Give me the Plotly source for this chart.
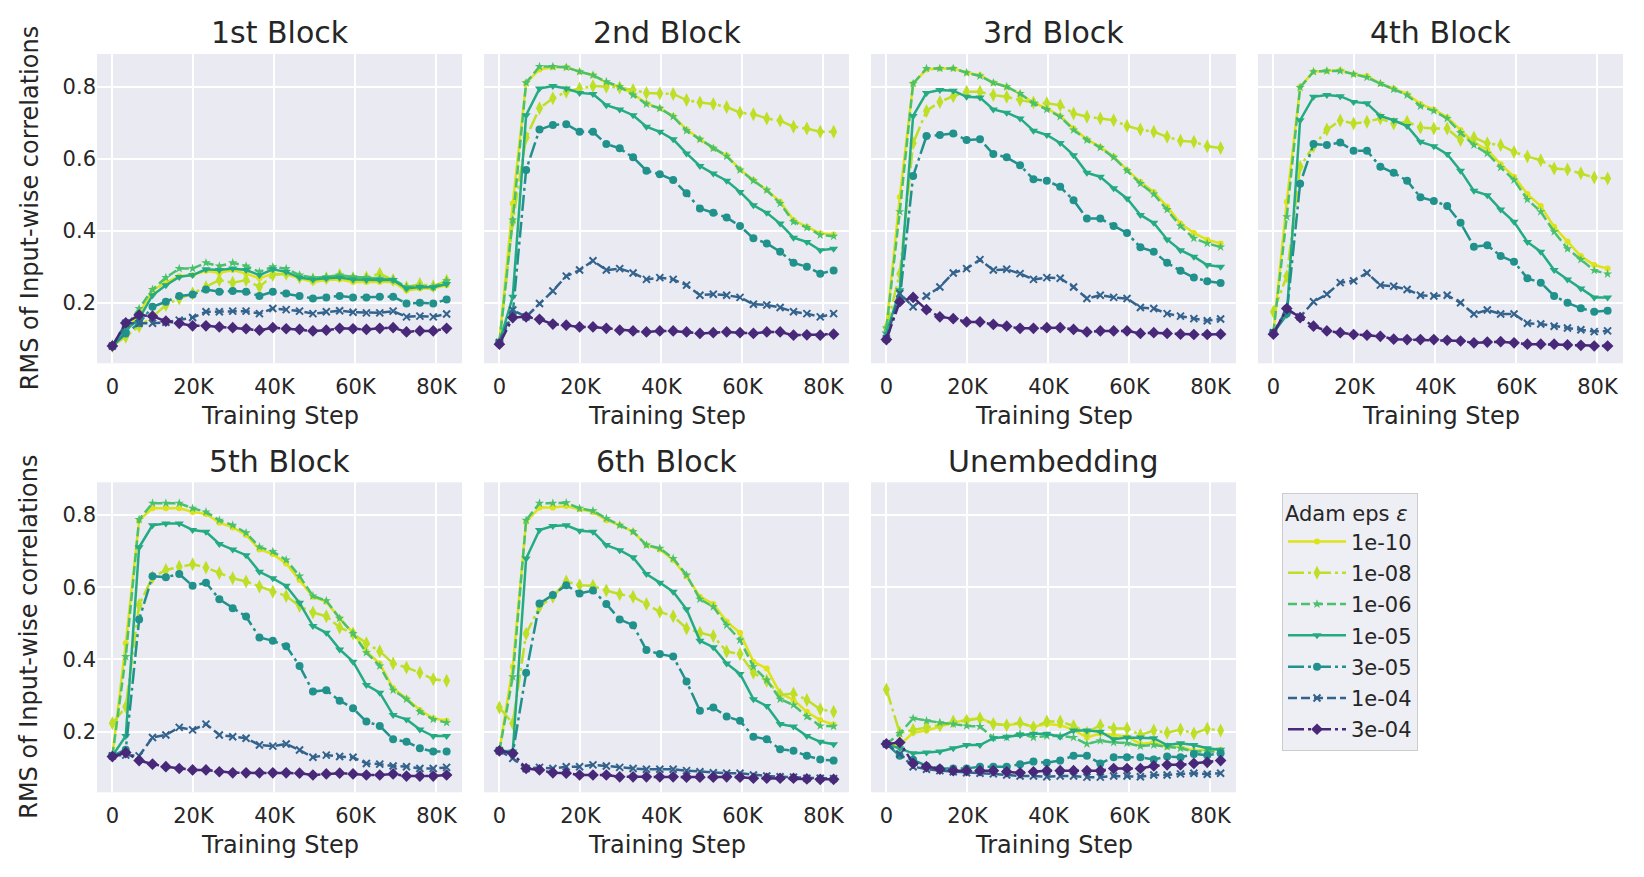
import plotly.graph_objects as go

# ---------------- data ----------------
STEPS = [0, 3300, 6600, 9900, 13200, 16500, 19800, 23100, 26400, 29700, 33000, 36300, 39600,
         42900, 46200, 49500, 52800, 56100, 59400, 62700, 66000, 69300, 72600, 75900, 79200, 82500]

EPS_LABELS = ["1e-10", "1e-08", "1e-06", "1e-05", "3e-05", "1e-04", "3e-04"]
PANEL_TITLES = ["1st Block", "2nd Block", "3rd Block", "4th Block", "5th Block", "6th Block", "Unembedding"]

XTICK_VALS = [0, 20000, 40000, 60000, 80000]
XTICK_TEXT = ["0", "20K", "40K", "60K", "80K"]
YTICK_VALS = [0.2, 0.4, 0.6, 0.8]
YTICK_TEXT = ["0.2", "0.4", "0.6", "0.8"]

BLOCK1 = {
    "1e-10": [0.08, 0.119, 0.170, 0.235, 0.256, 0.274, 0.277, 0.289, 0.283, 0.291, 0.281, 0.268, 0.281, 0.279, 0.268, 0.258, 0.263, 0.265, 0.258, 0.258, 0.258, 0.258, 0.234, 0.240, 0.240, 0.249],
    "1e-08": [0.08, 0.106, 0.135, 0.161, 0.194, 0.212, 0.226, 0.244, 0.263, 0.256, 0.263, 0.244, 0.277, 0.281, 0.270, 0.265, 0.268, 0.277, 0.268, 0.270, 0.281, 0.263, 0.243, 0.252, 0.246, 0.261],
    "1e-06": [0.08, 0.133, 0.184, 0.237, 0.270, 0.295, 0.295, 0.311, 0.302, 0.311, 0.302, 0.286, 0.300, 0.295, 0.277, 0.270, 0.272, 0.277, 0.272, 0.270, 0.268, 0.265, 0.244, 0.246, 0.244, 0.261],
    "1e-05": [0.08, 0.124, 0.156, 0.221, 0.249, 0.272, 0.277, 0.293, 0.291, 0.295, 0.291, 0.277, 0.293, 0.286, 0.270, 0.265, 0.268, 0.270, 0.265, 0.263, 0.263, 0.263, 0.240, 0.244, 0.243, 0.252],
    "3e-05": [0.08, 0.115, 0.143, 0.189, 0.203, 0.219, 0.223, 0.237, 0.231, 0.233, 0.231, 0.219, 0.231, 0.226, 0.219, 0.212, 0.215, 0.219, 0.215, 0.215, 0.217, 0.217, 0.198, 0.200, 0.198, 0.209],
    "1e-04": [0.08, 0.143, 0.143, 0.143, 0.146, 0.152, 0.159, 0.175, 0.175, 0.177, 0.177, 0.170, 0.184, 0.181, 0.177, 0.170, 0.175, 0.178, 0.174, 0.172, 0.172, 0.177, 0.161, 0.163, 0.161, 0.169],
    "3e-04": [0.08, 0.144, 0.166, 0.163, 0.149, 0.143, 0.136, 0.136, 0.133, 0.131, 0.128, 0.124, 0.131, 0.128, 0.126, 0.122, 0.124, 0.129, 0.128, 0.126, 0.129, 0.131, 0.119, 0.122, 0.122, 0.129],
}

BLOCK2 = {
    "1e-10": [0.092, 0.476, 0.811, 0.848, 0.854, 0.854, 0.842, 0.832, 0.811, 0.800, 0.780, 0.754, 0.740, 0.719, 0.681, 0.654, 0.629, 0.610, 0.570, 0.541, 0.513, 0.481, 0.430, 0.411, 0.393, 0.390],
    "1e-08": [0.090, 0.425, 0.659, 0.740, 0.768, 0.786, 0.795, 0.802, 0.800, 0.798, 0.791, 0.783, 0.781, 0.780, 0.763, 0.756, 0.752, 0.744, 0.728, 0.724, 0.712, 0.706, 0.689, 0.684, 0.675, 0.675],
    "1e-06": [0.090, 0.430, 0.811, 0.856, 0.856, 0.854, 0.842, 0.832, 0.814, 0.800, 0.777, 0.752, 0.740, 0.717, 0.678, 0.654, 0.629, 0.607, 0.569, 0.539, 0.513, 0.476, 0.425, 0.409, 0.388, 0.385],
    "1e-05": [0.090, 0.217, 0.721, 0.795, 0.802, 0.795, 0.783, 0.780, 0.749, 0.737, 0.721, 0.689, 0.675, 0.654, 0.615, 0.580, 0.559, 0.539, 0.508, 0.471, 0.450, 0.420, 0.381, 0.369, 0.346, 0.350],
    "3e-05": [0.090, 0.170, 0.569, 0.681, 0.694, 0.696, 0.675, 0.675, 0.641, 0.629, 0.604, 0.567, 0.557, 0.541, 0.504, 0.462, 0.450, 0.437, 0.413, 0.379, 0.365, 0.342, 0.311, 0.300, 0.281, 0.290],
    "1e-04": [0.090, 0.180, 0.161, 0.198, 0.233, 0.274, 0.291, 0.317, 0.291, 0.295, 0.283, 0.265, 0.270, 0.265, 0.249, 0.221, 0.224, 0.221, 0.215, 0.196, 0.194, 0.187, 0.175, 0.170, 0.161, 0.170],
    "3e-04": [0.085, 0.159, 0.161, 0.154, 0.141, 0.138, 0.133, 0.133, 0.129, 0.124, 0.122, 0.119, 0.122, 0.122, 0.119, 0.115, 0.117, 0.119, 0.117, 0.115, 0.119, 0.119, 0.110, 0.111, 0.110, 0.113],
}

BLOCK3 = {
    "1e-10": [0.133, 0.494, 0.809, 0.848, 0.851, 0.851, 0.839, 0.832, 0.811, 0.800, 0.780, 0.756, 0.740, 0.719, 0.684, 0.654, 0.633, 0.606, 0.569, 0.536, 0.508, 0.467, 0.420, 0.394, 0.375, 0.365],
    "1e-08": [0.130, 0.281, 0.643, 0.733, 0.758, 0.774, 0.786, 0.786, 0.777, 0.772, 0.763, 0.756, 0.754, 0.749, 0.726, 0.717, 0.712, 0.707, 0.691, 0.681, 0.675, 0.661, 0.650, 0.647, 0.635, 0.630],
    "1e-06": [0.130, 0.453, 0.809, 0.851, 0.851, 0.851, 0.839, 0.830, 0.811, 0.800, 0.781, 0.754, 0.737, 0.717, 0.680, 0.652, 0.631, 0.604, 0.567, 0.531, 0.502, 0.459, 0.413, 0.379, 0.365, 0.355],
    "1e-05": [0.115, 0.235, 0.719, 0.783, 0.791, 0.789, 0.772, 0.770, 0.737, 0.728, 0.712, 0.678, 0.666, 0.644, 0.610, 0.561, 0.550, 0.518, 0.490, 0.444, 0.422, 0.376, 0.346, 0.328, 0.305, 0.300],
    "3e-05": [0.100, 0.210, 0.552, 0.663, 0.666, 0.670, 0.652, 0.654, 0.613, 0.604, 0.582, 0.543, 0.539, 0.522, 0.485, 0.434, 0.434, 0.413, 0.394, 0.354, 0.342, 0.311, 0.289, 0.270, 0.260, 0.255],
    "1e-04": [0.100, 0.226, 0.189, 0.219, 0.244, 0.283, 0.295, 0.320, 0.291, 0.293, 0.281, 0.265, 0.270, 0.268, 0.244, 0.212, 0.221, 0.215, 0.212, 0.187, 0.184, 0.170, 0.163, 0.156, 0.150, 0.155],
    "3e-04": [0.098, 0.203, 0.215, 0.181, 0.161, 0.156, 0.147, 0.147, 0.140, 0.135, 0.129, 0.129, 0.131, 0.131, 0.126, 0.119, 0.122, 0.122, 0.122, 0.115, 0.117, 0.115, 0.113, 0.112, 0.112, 0.113],
}

BLOCK4 = {
    "1e-10": [0.117, 0.481, 0.800, 0.842, 0.844, 0.846, 0.835, 0.830, 0.809, 0.795, 0.780, 0.752, 0.737, 0.715, 0.680, 0.645, 0.626, 0.585, 0.550, 0.502, 0.469, 0.411, 0.370, 0.330, 0.305, 0.295],
    "1e-08": [0.175, 0.274, 0.578, 0.635, 0.681, 0.706, 0.698, 0.703, 0.712, 0.698, 0.703, 0.687, 0.684, 0.684, 0.652, 0.659, 0.643, 0.638, 0.619, 0.606, 0.596, 0.573, 0.570, 0.560, 0.548, 0.545],
    "1e-06": [0.117, 0.439, 0.798, 0.842, 0.844, 0.844, 0.835, 0.826, 0.809, 0.793, 0.777, 0.746, 0.733, 0.712, 0.672, 0.638, 0.615, 0.576, 0.541, 0.487, 0.453, 0.397, 0.350, 0.320, 0.290, 0.280],
    "1e-05": [0.117, 0.166, 0.707, 0.772, 0.777, 0.774, 0.758, 0.754, 0.719, 0.707, 0.691, 0.647, 0.635, 0.613, 0.567, 0.511, 0.499, 0.459, 0.425, 0.369, 0.342, 0.291, 0.265, 0.240, 0.215, 0.215],
    "3e-05": [0.117, 0.170, 0.531, 0.641, 0.638, 0.645, 0.622, 0.622, 0.578, 0.561, 0.539, 0.493, 0.483, 0.469, 0.422, 0.356, 0.360, 0.330, 0.314, 0.268, 0.256, 0.219, 0.200, 0.185, 0.175, 0.178],
    "1e-04": [0.117, 0.181, 0.161, 0.203, 0.224, 0.256, 0.261, 0.283, 0.249, 0.246, 0.237, 0.221, 0.219, 0.221, 0.200, 0.169, 0.180, 0.169, 0.169, 0.143, 0.141, 0.135, 0.130, 0.125, 0.120, 0.122],
    "3e-04": [0.113, 0.184, 0.159, 0.135, 0.122, 0.117, 0.112, 0.110, 0.107, 0.099, 0.098, 0.098, 0.098, 0.096, 0.094, 0.089, 0.091, 0.092, 0.089, 0.085, 0.085, 0.085, 0.083, 0.082, 0.080, 0.080],
}

BLOCK5 = {
    "1e-10": [0.133, 0.445, 0.786, 0.819, 0.819, 0.819, 0.809, 0.803, 0.779, 0.766, 0.745, 0.705, 0.692, 0.666, 0.620, 0.574, 0.560, 0.514, 0.474, 0.422, 0.389, 0.320, 0.292, 0.260, 0.237, 0.230],
    "1e-08": [0.223, 0.269, 0.551, 0.628, 0.648, 0.657, 0.664, 0.655, 0.640, 0.625, 0.616, 0.602, 0.588, 0.576, 0.548, 0.530, 0.520, 0.489, 0.472, 0.445, 0.423, 0.389, 0.378, 0.363, 0.345, 0.341],
    "1e-06": [0.133, 0.408, 0.788, 0.833, 0.833, 0.833, 0.819, 0.809, 0.786, 0.772, 0.751, 0.712, 0.699, 0.676, 0.631, 0.576, 0.563, 0.514, 0.472, 0.419, 0.382, 0.315, 0.290, 0.255, 0.234, 0.225],
    "1e-05": [0.133, 0.188, 0.711, 0.772, 0.777, 0.777, 0.759, 0.754, 0.720, 0.705, 0.689, 0.643, 0.625, 0.604, 0.557, 0.493, 0.474, 0.428, 0.394, 0.329, 0.308, 0.246, 0.234, 0.206, 0.188, 0.188],
    "3e-05": [0.133, 0.150, 0.511, 0.631, 0.628, 0.637, 0.604, 0.613, 0.567, 0.542, 0.519, 0.461, 0.452, 0.437, 0.382, 0.311, 0.315, 0.286, 0.265, 0.228, 0.216, 0.179, 0.172, 0.154, 0.145, 0.145],
    "1e-04": [0.133, 0.135, 0.133, 0.184, 0.191, 0.212, 0.205, 0.221, 0.191, 0.186, 0.182, 0.163, 0.160, 0.166, 0.149, 0.129, 0.135, 0.131, 0.129, 0.112, 0.110, 0.105, 0.103, 0.098, 0.098, 0.101],
    "3e-04": [0.131, 0.142, 0.120, 0.110, 0.103, 0.098, 0.094, 0.094, 0.089, 0.086, 0.086, 0.086, 0.086, 0.086, 0.085, 0.080, 0.083, 0.085, 0.083, 0.080, 0.080, 0.083, 0.077, 0.077, 0.077, 0.080],
}

BLOCK6 = {
    "1e-10": [0.147, 0.380, 0.782, 0.821, 0.821, 0.825, 0.816, 0.809, 0.786, 0.772, 0.754, 0.717, 0.705, 0.676, 0.631, 0.574, 0.554, 0.505, 0.474, 0.394, 0.375, 0.306, 0.288, 0.255, 0.232, 0.220],
    "1e-08": [0.267, 0.223, 0.471, 0.546, 0.574, 0.616, 0.606, 0.604, 0.591, 0.581, 0.574, 0.554, 0.532, 0.520, 0.486, 0.474, 0.465, 0.422, 0.415, 0.363, 0.341, 0.302, 0.306, 0.288, 0.262, 0.255],
    "1e-06": [0.147, 0.352, 0.786, 0.833, 0.833, 0.834, 0.819, 0.812, 0.791, 0.772, 0.754, 0.717, 0.708, 0.680, 0.634, 0.567, 0.546, 0.495, 0.454, 0.380, 0.343, 0.290, 0.274, 0.242, 0.216, 0.215],
    "1e-05": [0.147, 0.145, 0.680, 0.759, 0.770, 0.772, 0.757, 0.754, 0.717, 0.703, 0.683, 0.637, 0.613, 0.588, 0.539, 0.452, 0.434, 0.389, 0.360, 0.290, 0.271, 0.221, 0.214, 0.188, 0.172, 0.165],
    "3e-05": [0.147, 0.140, 0.363, 0.555, 0.579, 0.606, 0.583, 0.591, 0.554, 0.511, 0.495, 0.426, 0.415, 0.408, 0.339, 0.258, 0.267, 0.242, 0.230, 0.186, 0.179, 0.151, 0.147, 0.133, 0.123, 0.120],
    "1e-04": [0.147, 0.126, 0.098, 0.101, 0.098, 0.103, 0.103, 0.108, 0.105, 0.101, 0.098, 0.096, 0.096, 0.096, 0.092, 0.089, 0.086, 0.085, 0.085, 0.080, 0.077, 0.075, 0.074, 0.071, 0.071, 0.070],
    "3e-04": [0.147, 0.140, 0.098, 0.094, 0.086, 0.085, 0.080, 0.080, 0.080, 0.075, 0.075, 0.075, 0.075, 0.075, 0.074, 0.074, 0.074, 0.075, 0.074, 0.071, 0.071, 0.071, 0.071, 0.069, 0.068, 0.068],
}

UNEMBEDDING = {
    "1e-10": [0.166, 0.163, 0.197, 0.203, 0.214, 0.223, 0.234, 0.237, 0.223, 0.218, 0.223, 0.214, 0.221, 0.218, 0.205, 0.184, 0.195, 0.191, 0.186, 0.166, 0.170, 0.158, 0.158, 0.147, 0.150, 0.150],
    "1e-08": [0.317, 0.197, 0.205, 0.212, 0.218, 0.228, 0.230, 0.237, 0.221, 0.218, 0.225, 0.212, 0.228, 0.228, 0.216, 0.197, 0.218, 0.209, 0.209, 0.191, 0.203, 0.197, 0.206, 0.195, 0.208, 0.203],
    "1e-06": [0.166, 0.195, 0.237, 0.230, 0.225, 0.221, 0.216, 0.214, 0.184, 0.184, 0.194, 0.184, 0.188, 0.188, 0.184, 0.166, 0.175, 0.170, 0.168, 0.160, 0.163, 0.158, 0.154, 0.145, 0.145, 0.145],
    "1e-05": [0.166, 0.154, 0.140, 0.142, 0.145, 0.154, 0.163, 0.163, 0.182, 0.186, 0.191, 0.194, 0.194, 0.186, 0.203, 0.203, 0.200, 0.179, 0.184, 0.184, 0.182, 0.163, 0.168, 0.163, 0.154, 0.150],
    "3e-05": [0.166, 0.133, 0.122, 0.105, 0.098, 0.098, 0.098, 0.103, 0.103, 0.103, 0.110, 0.117, 0.114, 0.120, 0.133, 0.133, 0.112, 0.129, 0.129, 0.129, 0.123, 0.131, 0.129, 0.138, 0.135, 0.140],
    "1e-04": [0.166, 0.138, 0.103, 0.096, 0.092, 0.089, 0.086, 0.085, 0.083, 0.080, 0.077, 0.077, 0.075, 0.077, 0.077, 0.074, 0.074, 0.077, 0.077, 0.075, 0.080, 0.080, 0.083, 0.085, 0.082, 0.085],
    "3e-04": [0.166, 0.170, 0.112, 0.103, 0.096, 0.092, 0.092, 0.092, 0.092, 0.089, 0.086, 0.089, 0.092, 0.092, 0.092, 0.092, 0.092, 0.098, 0.098, 0.098, 0.105, 0.108, 0.108, 0.112, 0.115, 0.120],
}

PANELS = [BLOCK1, BLOCK2, BLOCK3, BLOCK4, BLOCK5, BLOCK6, UNEMBEDDING]

# ---------------- styles ----------------
COLORS = {"1e-10": "#dde318", "1e-08": "#bddf26", "1e-06": "#4ac16d", "1e-05": "#25ab82",
          "3e-05": "#21918c", "1e-04": "#33638d", "3e-04": "#482878"}
DASHES = {"1e-10": "solid", "1e-08": "16px,4px,3px,4px", "1e-06": "9px,4px", "1e-05": "solid",
          "3e-05": "16px,4px,3px,4px", "1e-04": "9px,4px", "3e-04": "16px,4px,3px,4px"}
SYMBOLS = {"1e-10": "circle", "1e-08": "diamond-tall", "1e-06": "star", "1e-05": "triangle-down",
           "3e-05": "circle", "1e-04": "x-thin", "3e-04": "diamond"}
MSIZES = {"1e-10": 6, "1e-08": 10, "1e-06": 7, "1e-05": 8, "3e-05": 8, "1e-04": 7, "3e-04": 9}

W, H = 1644, 877
COL_X0 = [97, 484, 871, 1258]
PANEL_W = 365
ROW_TOP = [54, 482.3]
ROW_BOT = [363.3, 792.3]
TXT = "#262626"
FONT = "DejaVu Sans"

fig = go.Figure()
annotations = []
layout_axes = {}

for p, (title, data) in enumerate(zip(PANEL_TITLES, PANELS)):
    r, c = divmod(p, 4)
    ax = p + 1
    xs = "x" if ax == 1 else f"x{ax}"
    ys = "y" if ax == 1 else f"y{ax}"
    for lab in EPS_LABELS:
        col = COLORS[lab]
        fig.add_trace(go.Scatter(
            x=STEPS, y=data[lab], xaxis=xs, yaxis=ys, mode="lines+markers",
            name=lab, legendgroup=lab, showlegend=(p == 0),
            line=dict(color=col, width=2.5, dash=DASHES[lab]),
            marker=dict(symbol=SYMBOLS[lab], size=MSIZES[lab], color=col,
                        line=dict(color=col, width=2 if lab == "1e-04" else 0)),
        ))
    x0 = COL_X0[c]
    layout_axes["xaxis" if ax == 1 else f"xaxis{ax}"] = dict(
        domain=[x0 / W, (x0 + PANEL_W) / W], anchor=ys, range=[-3800, 86300],
        tickvals=XTICK_VALS, ticktext=XTICK_TEXT, showgrid=True, gridcolor="white", gridwidth=2,
        zeroline=False, showline=False, ticks="outside", ticklen=4, tickcolor="rgba(0,0,0,0)",
        tickfont=dict(family=FONT, size=21, color=TXT))
    layout_axes["yaxis" if ax == 1 else f"yaxis{ax}"] = dict(
        domain=[1 - ROW_BOT[r] / H, 1 - ROW_TOP[r] / H], anchor=xs, range=[0.032, 0.891],
        tickvals=YTICK_VALS, ticktext=YTICK_TEXT, showticklabels=(c == 0), showgrid=True,
        gridcolor="white", gridwidth=2, zeroline=False, showline=False, ticks="",
        tickfont=dict(family=FONT, size=21, color=TXT))
    cx = (x0 + PANEL_W / 2) / W
    annotations.append(dict(text=title, x=cx, y=1 - (ROW_TOP[r] - 21) / H, xref="paper", yref="paper",
                            xanchor="center", yanchor="middle", showarrow=False,
                            font=dict(family=FONT, size=30, color=TXT)))
    annotations.append(dict(text="Training Step", x=cx, y=1 - (ROW_BOT[r] + 53) / H, xref="paper",
                            yref="paper", xanchor="center", yanchor="middle", showarrow=False,
                            font=dict(family=FONT, size=24, color=TXT)))

for r in range(2):
    annotations.append(dict(text="RMS of Input-wise correlations", x=29.5 / W,
                            y=1 - (ROW_TOP[r] + ROW_BOT[r]) / 2 / H, xref="paper", yref="paper",
                            xanchor="center", yanchor="middle", textangle=-90, showarrow=False,
                            font=dict(family=FONT, size=24, color=TXT)))

fig.update_layout(
    width=W, height=H, margin=dict(l=0, r=0, t=0, b=0),
    paper_bgcolor="white", plot_bgcolor="#EAEAF2",
    font=dict(family=FONT, color=TXT),
    annotations=annotations,
    legend=dict(x=1282 / W, y=1 - 493 / H, xanchor="left", yanchor="top",
                bgcolor="rgba(234,234,242,0.8)", bordercolor="#cccccc", borderwidth=1,
                font=dict(family=FONT, size=21, color=TXT), tracegroupgap=1, itemwidth=58,
                title=dict(text="Adam eps <i>ε</i>", font=dict(family=FONT, size=21, color=TXT))),
    **layout_axes,
)

fig.write_html("out.html", config={"displayModeBar": False},
               post_script="document.body.style.margin='0';document.body.style.overflow='hidden';")
